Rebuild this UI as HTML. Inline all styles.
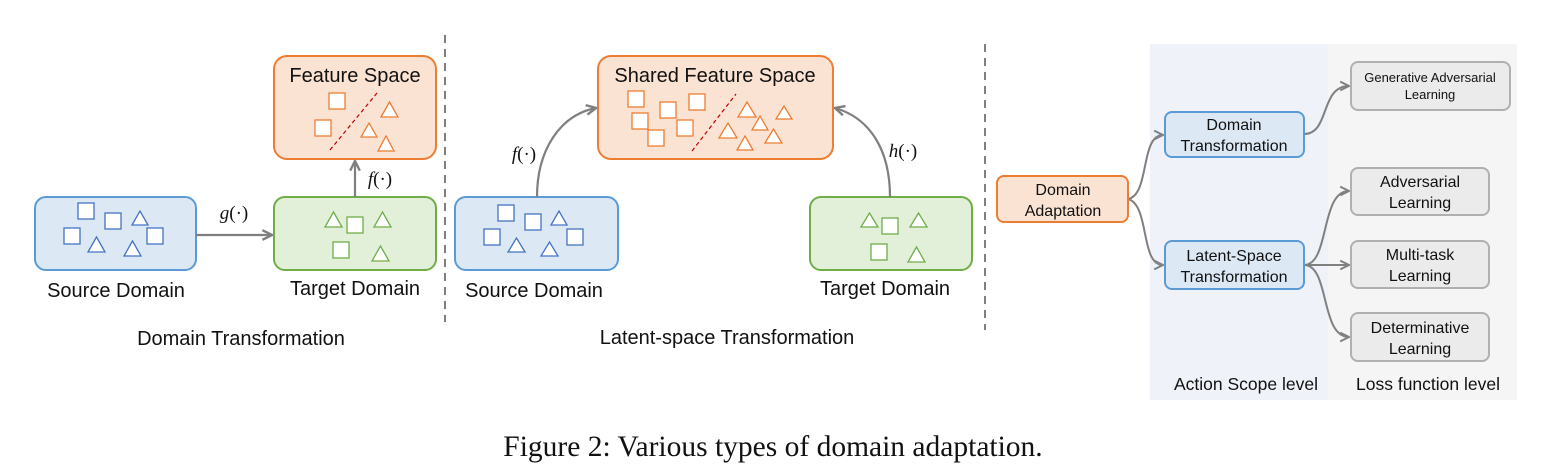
<!DOCTYPE html>
<html><head><meta charset="utf-8"><style>
html,body{margin:0;padding:0;background:#fff;}
svg{display:block;}
text{font-family:"Liberation Sans",sans-serif;}
text.s{font-family:"Liberation Serif",serif;}
</style></head><body>
<svg width="1547" height="472" viewBox="0 0 1547 472" xmlns="http://www.w3.org/2000/svg">
<defs>
<marker id="ar" viewBox="0 0 10 10" refX="9" refY="5" markerWidth="12" markerHeight="12" orient="auto" markerUnits="userSpaceOnUse"><path d="M1,1 L9,5 L1,9" fill="none" stroke="#7f7f7f" stroke-width="2"/></marker>
<marker id="ar2" viewBox="0 0 10 10" refX="9" refY="5" markerWidth="11" markerHeight="11" orient="auto" markerUnits="userSpaceOnUse"><path d="M1,1 L9,5 L1,9" fill="none" stroke="#808080" stroke-width="1.8"/></marker>
</defs>

<line x1="445" y1="35" x2="445" y2="322" stroke="#808080" stroke-width="2" stroke-dasharray="8,6"/>
<line x1="985" y1="44" x2="985" y2="330" stroke="#808080" stroke-width="2" stroke-dasharray="8,6"/>

<!-- LEFT PANEL -->
<rect x="35" y="197" width="161" height="73" rx="11" fill="#dde8f5" stroke="#5b9bd5" stroke-width="2"/>
<g fill="#fff" stroke="#4472c4" stroke-width="1.3">
<rect x="78" y="203" width="16" height="16"/><rect x="105" y="213" width="16" height="16"/><rect x="64" y="228" width="16" height="16"/><rect x="147" y="228" width="16" height="16"/>
<polygon points="132,225 148,225 140,211"/><polygon points="88,252 105,252 96.5,237"/><polygon points="124,256 141,256 132.5,241"/>
</g>
<rect x="274" y="197" width="162" height="73" rx="11" fill="#e2efd9" stroke="#70ad47" stroke-width="2"/>
<g fill="#fff" stroke="#70ad47" stroke-width="1.3">
<polygon points="325,227 342,227 333.5,212"/><rect x="347" y="217" width="16" height="16"/><polygon points="374,227 391,227 382.5,212"/><rect x="333" y="242" width="16" height="16"/><polygon points="372,261 389,261 380.5,246"/>
</g>
<rect x="274" y="56" width="162" height="103" rx="13" fill="#fbe3d4" stroke="#ed7d31" stroke-width="2"/>
<text x="355" y="82" font-size="20" text-anchor="middle" fill="#111">Feature Space</text>
<g fill="#fff" stroke="#ed7d31" stroke-width="1.3">
<rect x="329" y="93" width="16" height="16"/><rect x="315" y="120" width="16" height="16"/>
<polygon points="381,117 398,117 389.5,102"/><polygon points="361,137 377,137 369,123"/><polygon points="378,151 394,151 386,136"/>
</g>
<line x1="330" y1="150" x2="377" y2="93" stroke="#c00000" stroke-width="1.2" stroke-dasharray="4,3"/>
<line x1="196" y1="235" x2="272" y2="235" stroke="#7f7f7f" stroke-width="2.2" marker-end="url(#ar)"/>
<line x1="355" y1="197" x2="355" y2="161" stroke="#7f7f7f" stroke-width="2.2" marker-end="url(#ar)"/>
<text class="s" x="234" y="219" font-size="19" font-style="italic" text-anchor="middle" fill="#111">g<tspan font-style="normal">(·)</tspan></text>
<text class="s" x="380" y="185" font-size="19" font-style="italic" text-anchor="middle" fill="#111">f<tspan font-style="normal">(·)</tspan></text>
<text x="116" y="297" font-size="20" text-anchor="middle" fill="#111">Source Domain</text>
<text x="355" y="295" font-size="20" text-anchor="middle" fill="#111">Target Domain</text>
<text x="241" y="345" font-size="20" text-anchor="middle" fill="#111">Domain Transformation</text>

<!-- MIDDLE PANEL -->
<rect x="598" y="56" width="235" height="103" rx="13" fill="#fbe3d4" stroke="#ed7d31" stroke-width="2"/>
<text x="715" y="82" font-size="20" text-anchor="middle" fill="#111">Shared Feature Space</text>
<g fill="#fff" stroke="#ed7d31" stroke-width="1.3">
<rect x="628" y="91" width="16" height="16"/><rect x="660" y="102" width="16" height="16"/><rect x="689" y="94" width="16" height="16"/><rect x="632" y="113" width="16" height="16"/><rect x="677" y="120" width="16" height="16"/><rect x="648" y="130" width="16" height="16"/>
<polygon points="738,117 756,117 747,102"/><polygon points="776,119 792,119 784,106"/><polygon points="752,130 768,130 760,116"/><polygon points="719,138 737,138 728,123"/><polygon points="765,143 782,143 773.5,129"/><polygon points="737,150 753,150 745,136"/>
</g>
<line x1="692" y1="151" x2="736" y2="94" stroke="#c00000" stroke-width="1.2" stroke-dasharray="4,3"/>
<rect x="455" y="197" width="163" height="73" rx="11" fill="#dde8f5" stroke="#5b9bd5" stroke-width="2"/>
<g fill="#fff" stroke="#4472c4" stroke-width="1.3">
<rect x="498" y="205" width="16" height="16"/><rect x="525" y="214" width="16" height="16"/><rect x="484" y="229" width="16" height="16"/><rect x="567" y="229" width="16" height="16"/>
<polygon points="551,225 567,225 559,211"/><polygon points="508,252 525,252 516.5,238"/><polygon points="541,256 558,256 549.5,242"/>
</g>
<rect x="810" y="197" width="162" height="73" rx="11" fill="#e2efd9" stroke="#70ad47" stroke-width="2"/>
<g fill="#fff" stroke="#70ad47" stroke-width="1.3">
<polygon points="861,227 878,227 869.5,213"/><rect x="882" y="218" width="16" height="16"/><polygon points="910,227 927,227 918.5,213"/><rect x="871" y="244" width="16" height="16"/><polygon points="908,262 925,262 916.5,247"/>
</g>
<path d="M537,197 C537,150 560,115 596,108" fill="none" stroke="#7f7f7f" stroke-width="2.2" marker-end="url(#ar)"/>
<path d="M890,197 C890,150 870,118 835,108" fill="none" stroke="#7f7f7f" stroke-width="2.2" marker-end="url(#ar)"/>
<text class="s" x="524" y="160" font-size="19" font-style="italic" text-anchor="middle" fill="#111">f<tspan font-style="normal">(·)</tspan></text>
<text class="s" x="903" y="157" font-size="19" font-style="italic" text-anchor="middle" fill="#111">h<tspan font-style="normal">(·)</tspan></text>
<text x="534" y="297" font-size="20" text-anchor="middle" fill="#111">Source Domain</text>
<text x="885" y="295" font-size="20" text-anchor="middle" fill="#111">Target Domain</text>
<text x="727" y="344" font-size="20" text-anchor="middle" fill="#111">Latent-space Transformation</text>

<!-- RIGHT PANEL -->
<rect x="1150" y="44" width="178" height="356" fill="#eff2f9"/>
<rect x="1328" y="44" width="189" height="356" fill="#f5f5f6"/>
<g fill="none" stroke="#808080" stroke-width="2" marker-end="url(#ar2)">
<path d="M1128,199 C1150,195 1140,135 1163,135"/>
<path d="M1128,199 C1150,205 1140,265 1163,265"/>
<path d="M1304,134 C1330,134 1320,86 1349,86"/>
<path d="M1304,265 C1330,265 1320,191 1349,191"/>
<path d="M1304,265 L1349,265"/>
<path d="M1304,265 C1330,265 1320,337 1349,337"/>
</g>
<rect x="997" y="176" width="131" height="46" rx="7" fill="#fbe3d4" stroke="#ed7d31" stroke-width="2"/>
<text x="1063" y="195" font-size="16" text-anchor="middle" fill="#111">Domain</text>
<text x="1063" y="216" font-size="16" text-anchor="middle" fill="#111">Adaptation</text>
<rect x="1165" y="112" width="139" height="45" rx="7" fill="#dde8f5" stroke="#5b9bd5" stroke-width="2"/>
<text x="1234" y="130" font-size="16" text-anchor="middle" fill="#111">Domain</text>
<text x="1234" y="151" font-size="16" text-anchor="middle" fill="#111">Transformation</text>
<rect x="1165" y="241" width="139" height="48" rx="7" fill="#dde8f5" stroke="#5b9bd5" stroke-width="2"/>
<text x="1234" y="261" font-size="16" text-anchor="middle" fill="#111">Latent-Space</text>
<text x="1234" y="282" font-size="16" text-anchor="middle" fill="#111">Transformation</text>
<g fill="#ebebeb" stroke="#b0b0b0" stroke-width="2">
<rect x="1351" y="62" width="159" height="48" rx="7"/>
<rect x="1351" y="168" width="138" height="47" rx="7"/>
<rect x="1351" y="241" width="138" height="47" rx="7"/>
<rect x="1351" y="313" width="138" height="48" rx="7"/>
</g>
<text x="1430" y="82" font-size="13" text-anchor="middle" fill="#111">Generative Adversarial</text>
<text x="1430" y="99" font-size="13" text-anchor="middle" fill="#111">Learning</text>
<text x="1420" y="187" font-size="16" text-anchor="middle" fill="#111">Adversarial</text>
<text x="1420" y="208" font-size="16" text-anchor="middle" fill="#111">Learning</text>
<text x="1420" y="260" font-size="16" text-anchor="middle" fill="#111">Multi-task</text>
<text x="1420" y="281" font-size="16" text-anchor="middle" fill="#111">Learning</text>
<text x="1420" y="333" font-size="16" text-anchor="middle" fill="#111">Determinative</text>
<text x="1420" y="354" font-size="16" text-anchor="middle" fill="#111">Learning</text>
<text x="1246" y="390" font-size="17.5" text-anchor="middle" fill="#111">Action Scope level</text>
<text x="1428" y="390" font-size="17.5" text-anchor="middle" fill="#111">Loss function level</text>

<text class="s" x="773" y="456" font-size="29.5" text-anchor="middle" fill="#111">Figure 2: Various types of domain adaptation.</text>
</svg>
</body></html>
